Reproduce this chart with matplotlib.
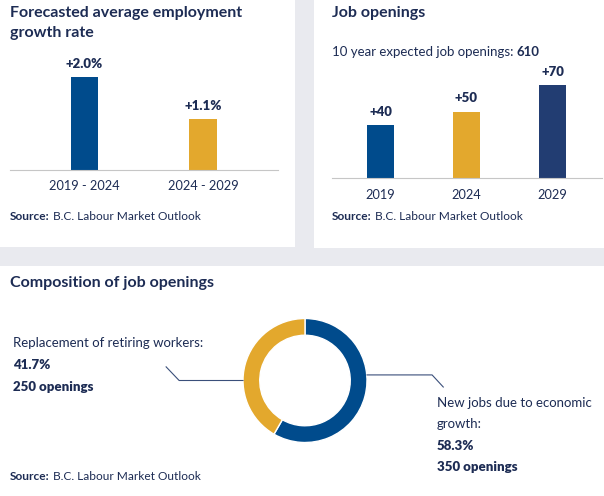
import matplotlib
matplotlib.use('Agg')
import matplotlib.pyplot as plt
from matplotlib.patches import Rectangle

plt.rcParams['font.family'] = ['Lato', 'DejaVu Sans']

# Datos del gráfico
periods = ['2019 - 2024', '2024 - 2029']
growth = [2.0, 1.1]
growth_labels = ['+2.0%', '+1.1%']

years = ['2019', '2024', '2029']
openings = [40, 50, 70]
openings_labels = ['+40', '+50', '+70']
total_openings = 610

parts = ['New jobs due to economic growth', 'Replacement of retiring workers']
part_openings = [350, 250]
part_pct = [58.3, 41.7]

source = 'B.C. Labour Market Outlook'

BLUE = '#004b8c'
GOLD = '#e3a82d'
NAVY = '#223d72'
TEXT = '#1d2c54'
BG = '#e9eaef'

W, H = 604, 496


def fig_box(x0, y0, x1, y1):
    # caja en píxeles (origen arriba a la izquierda) -> fracción de figura
    return [x0 / W, 1 - y1 / H, (x1 - x0) / W, (y1 - y0) / H]


def px(x, y):
    return x / W, 1 - y / H


fig = plt.figure(figsize=(W / 100, H / 100), dpi=100, facecolor=BG)

# paneles blancos
for x0, y0, x1, y1 in [(0, 0, 295, 247), (314, 0, 604, 248), (0, 266, 604, 496)]:
    fig.add_artist(Rectangle(px(x0, y1), (x1 - x0) / W, (y1 - y0) / H,
                             transform=fig.transFigure, facecolor='white',
                             edgecolor='none', zorder=0))

# eje auxiliar transparente para anotaciones encadenadas
base = fig.add_axes([0, 0, 1, 1])
base.axis('off')
base.set_zorder(10)


def title(x, y, s):
    fig.text(*px(x, y), s, fontsize=11.5, fontweight='bold', color=TEXT,
             ha='left', va='center')


def mixed(x, y, first, second, first_bold=True, size=9.5):
    w1 = 'bold' if first_bold else 'normal'
    w2 = 'normal' if first_bold else 'bold'
    t = fig.text(*px(x, y), first, fontsize=size, fontweight=w1, color=TEXT,
                 ha='left', va='baseline')
    base.annotate(second, xy=(1, 0), xycoords=t, fontsize=size, fontweight=w2,
                  color=TEXT, ha='left', va='bottom', annotation_clip=False)


def clean(ax):
    for s in ['top', 'right', 'left']:
        ax.spines[s].set_visible(False)
    ax.spines['bottom'].set_color('#c6c6c6')
    ax.spines['bottom'].set_linewidth(0.8)
    ax.set_yticks([])
    ax.patch.set_alpha(0)


# Panel 1: crecimiento del empleo
title(10, 13, 'Forecasted average employment')
title(10, 33, 'growth rate')
ax1 = fig.add_axes(fig_box(10, 70, 278, 170))
ax1.bar(range(len(growth)), growth, width=0.228, color=[BLUE, GOLD])
ax1.set_xlim(-0.629, 1.633)
ax1.set_ylim(0, 2.15)
clean(ax1)
ax1.set_xticks(range(len(periods)), periods)
ax1.tick_params(axis='x', length=0, pad=7, labelsize=9.2, labelcolor=TEXT)
for i, v in enumerate(growth):
    ax1.annotate(growth_labels[i], (i, v), xytext=(0, 9.5),
                 textcoords='offset points', ha='center', va='center',
                 fontsize=9.5, fontweight='heavy', color=TEXT)
mixed(10, 220.5, 'Source:', ' ' + source, size=8.6)

# Panel 2: vacantes
title(332, 13, 'Job openings')
mixed(332, 56, '10 year expected job openings: ', str(total_openings),
      first_bold=False)
ax2 = fig.add_axes(fig_box(332, 68, 602, 178))
ax2.bar(range(len(openings)), openings, width=0.314, color=[BLUE, GOLD, NAVY])
ax2.set_xlim(-0.564, 2.576)
ax2.set_ylim(0, 82.8)
clean(ax2)
ax2.set_xticks(range(len(years)), years)
ax2.tick_params(axis='x', length=0, pad=8, labelsize=9.2, labelcolor=TEXT)
for i, v in enumerate(openings):
    ax2.annotate(openings_labels[i], (i, v), xytext=(0, 9.5),
                 textcoords='offset points', ha='center', va='center',
                 fontsize=9.5, fontweight='heavy', color=TEXT)
mixed(332, 220.5, 'Source:', ' ' + source, size=8.6)

# Panel 3: composición (donut)
title(10, 283, 'Composition of job openings')
ax3 = fig.add_axes(fig_box(243, 318.5, 367, 442.5))
ax3.pie(part_openings, colors=[BLUE, GOLD], startangle=90, counterclock=False,
        wedgeprops=dict(width=0.27, edgecolor='white', linewidth=1))
ax3.set_xlim(-1, 1)
ax3.set_ylim(-1, 1)
ax3.set_aspect('equal')
# líneas guía
ax3.plot([-1.0, -2.03, -2.24], [0.0, 0.0, 0.22], color='#3a4f7a', lw=0.8,
         clip_on=False)
ax3.plot([1.0, 2.05, 2.23], [0.09, 0.09, -0.105], color='#3a4f7a', lw=0.8,
         clip_on=False)

fig.text(*px(13, 343), 'Replacement of retiring workers:', fontsize=9.5,
         color=TEXT, va='center')
fig.text(*px(13, 365), f'{part_pct[1]}%', fontsize=9.5, fontweight='heavy',
         color=TEXT, va='center')
fig.text(*px(13, 387), f'{part_openings[1]} openings', fontsize=9.5,
         fontweight='heavy', color=TEXT, va='center')

fig.text(*px(437, 403), 'New jobs due to economic', fontsize=9.5, color=TEXT,
         va='center')
fig.text(*px(437, 424), 'growth:', fontsize=9.5, color=TEXT, va='center')
fig.text(*px(437, 446), f'{part_pct[0]}%', fontsize=9.5, fontweight='heavy',
         color=TEXT, va='center')
fig.text(*px(437, 467), f'{part_openings[0]} openings', fontsize=9.5,
         fontweight='heavy', color=TEXT, va='center')
mixed(10, 479.5, 'Source:', ' ' + source, size=8.6)

fig.savefig('out.png', dpi=100, facecolor=BG)
